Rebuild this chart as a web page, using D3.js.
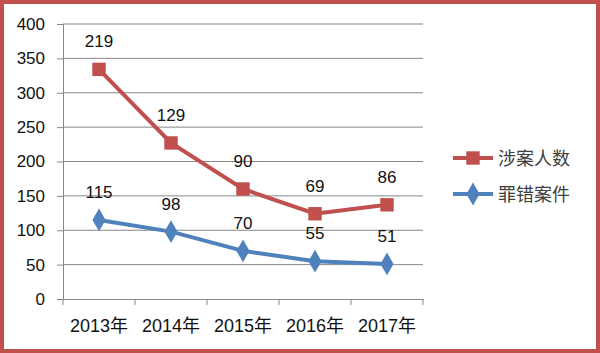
<!DOCTYPE html>
<html>
<head>
<meta charset="utf-8">
<script src="https://cdn.jsdelivr.net/npm/d3@7"></script>
<style>
  body { margin: 0; background: #fff; }
  text { font-family: "Liberation Sans", "Noto Sans CJK SC", sans-serif; }
</style>
</head>
<body>
<svg id="chart" width="600" height="353"></svg>
<script>
// 年份
const years = ["2013年", "2014年", "2015年", "2016年", "2017年"];
// 罪错案件
const cases = [115, 98, 70, 55, 51];
// 涉案人数 (堆积折线：画在罪错案件之上)
const people = [219, 129, 90, 69, 86];
const yTicks = [0, 50, 100, 150, 200, 250, 300, 350, 400];

const svg = d3.select("#chart");
const W = +svg.attr("width");
const H = +svg.attr("height");
const margin = { top: 24, right: 177, bottom: 54, left: 63 };

const RED = "#C0504D";
const BLUE = "#4F81BD";
const GRID = "#878787";

// 外框
svg.append("rect")
  .attr("x", 2).attr("y", 2)
  .attr("width", W - 4).attr("height", H - 4)
  .attr("fill", "#fff")
  .attr("stroke", RED)
  .attr("stroke-width", 4);

const x = d3.scaleBand()
  .domain(years)
  .range([margin.left, W - margin.right]);

const y = d3.scaleLinear()
  .domain([0, 400])
  .range([H - margin.bottom, margin.top]);

// 网格线 + Y轴
const yAxis = svg.append("g")
  .attr("transform", `translate(${margin.left},0)`)
  .call(d3.axisLeft(y).tickValues(yTicks).tickSize(6).tickPadding(12));
yAxis.select(".domain").attr("stroke", GRID);
yAxis.selectAll(".tick line").attr("stroke", GRID);
yAxis.selectAll(".tick text")
  .style("font-size", "17px")
  .attr("fill", "#111");

svg.append("g")
  .selectAll("line")
  .data(yTicks.filter(d => d > 0))
  .enter()
  .append("line")
  .attr("x1", margin.left)
  .attr("x2", W - margin.right)
  .attr("y1", d => y(d))
  .attr("y2", d => y(d))
  .attr("stroke", GRID)
  .attr("stroke-width", 1);

// X轴
const xAxis = svg.append("g")
  .attr("transform", `translate(0,${H - margin.bottom})`)
  .call(d3.axisBottom(x).tickSize(0).tickPadding(20));
xAxis.select(".domain").attr("stroke", GRID);
xAxis.selectAll(".tick text")
  .style("font-size", "18px")
  .attr("fill", "#111");

// X轴刻度（类别边界）
const bounds = years.map(d => x(d)).concat([x(years[years.length - 1]) + x.bandwidth()]);
xAxis.selectAll(".bound")
  .data(bounds)
  .enter()
  .append("line")
  .attr("x1", d => d).attr("x2", d => d)
  .attr("y1", 0).attr("y2", 6)
  .attr("stroke", GRID);

const cx = d => x(d) + x.bandwidth() / 2;

const blueData = years.map((yr, i) => ({ yr, label: cases[i], v: cases[i] }));
const redData = years.map((yr, i) => ({ yr, label: people[i], v: cases[i] + people[i] }));

const line = d3.line().x(d => cx(d.yr)).y(d => y(d.v));

// 折线
svg.append("path").datum(redData)
  .attr("d", line).attr("fill", "none")
  .attr("stroke", RED).attr("stroke-width", 4);
svg.append("path").datum(blueData)
  .attr("d", line).attr("fill", "none")
  .attr("stroke", BLUE).attr("stroke-width", 4);

// 标记
const sq = d3.symbol().type(d3.symbolSquare).size(180);
const dm = d3.symbol().type(d3.symbolDiamond).size(150);

svg.selectAll(".redmk")
  .data(redData).enter()
  .append("path")
  .attr("d", sq)
  .attr("transform", d => `translate(${cx(d.yr)},${y(d.v)})`)
  .attr("fill", RED);

svg.selectAll(".bluemk")
  .data(blueData).enter()
  .append("path")
  .attr("d", dm)
  .attr("transform", d => `translate(${cx(d.yr)},${y(d.v)})`)
  .attr("fill", BLUE);

// 数据标签
svg.selectAll(".lbl")
  .data(redData.concat(blueData)).enter()
  .append("text")
  .attr("x", d => cx(d.yr))
  .attr("y", d => y(d.v) - 22)
  .attr("text-anchor", "middle")
  .style("font-size", "17px")
  .attr("fill", "#111")
  .text(d => d.label);

// 图例
const legend = [
  { name: "涉案人数", color: RED, sym: sq, yy: 158 },
  { name: "罪错案件", color: BLUE, sym: dm, yy: 194 }
];
const lg = svg.selectAll(".lg").data(legend).enter().append("g")
  .attr("transform", d => `translate(453,${d.yy})`);
lg.append("line")
  .attr("x1", 0).attr("x2", 40)
  .attr("stroke", d => d.color).attr("stroke-width", 4);
lg.append("path")
  .attr("d", d => d.sym())
  .attr("transform", "translate(20,0)")
  .attr("fill", d => d.color);
lg.append("text")
  .attr("x", 45).attr("y", 7)
  .style("font-family", "'Noto Sans CJK SC', sans-serif")
  .style("font-size", "18px")
  .attr("fill", "#404040")
  .text(d => d.name);
</script>
</body>
</html>
